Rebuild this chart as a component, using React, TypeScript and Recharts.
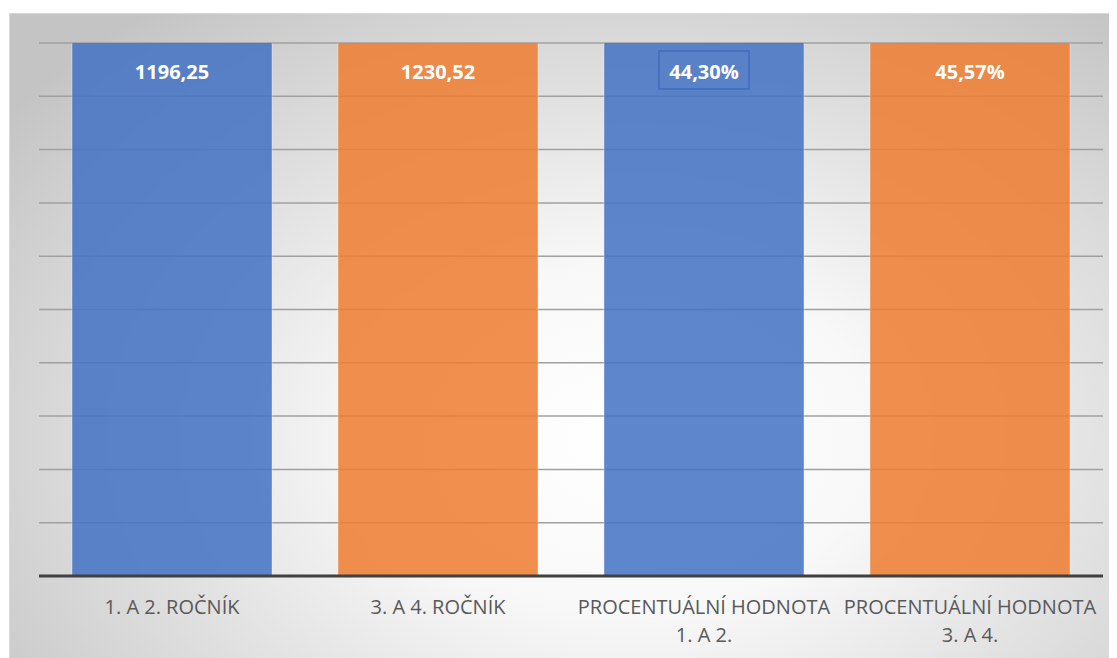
import { BarChart, Bar, XAxis, YAxis, CartesianGrid, Cell, LabelList, Text } from "recharts";

const categories = [
  "1. A 2. ROČNÍK",
  "3. A 4. ROČNÍK",
  "PROCENTUÁLNÍ HODNOTA\n1. A 2.",
  "PROCENTUÁLNÍ HODNOTA\n3. A 4.",
];
const values = [1196.25, 1230.52, 0.443, 0.4557];
const isPercent = [false, false, true, true];
const barColors = ["#4472C4", "#ED7D31", "#4472C4", "#ED7D31"];
const yTicks = [0, 0.04, 0.08, 0.12, 0.16, 0.2, 0.24, 0.28, 0.32, 0.36, 0.4];

const data = categories.map((name, i) => ({ name, value: values[i], pct: isPercent[i] }));

const fmt = (v: number, pct: boolean) =>
  pct ? (v * 100).toFixed(2).replace(".", ",") + "%" : v.toFixed(2).replace(".", ",");

const FONT = "'Open Sans', 'Noto Sans', sans-serif";

function Tick(props: any) {
  const { x, y, payload } = props;
  const lines = String(payload.value).split("\n");
  return (
    <g>
      {lines.map((l, i) => (
        <Text
          key={i}
          x={x}
          y={y + 16 + i * 28}
          textAnchor="middle"
          verticalAnchor="start"
          fill="#595959"
          fontSize={20}
          fontFamily={FONT}
        >
          {l}
        </Text>
      ))}
    </g>
  );
}

function ValueLabel(props: any) {
  const { x, y, width, index } = props;
  const cx = x + width / 2;
  const top = y < 30 ? 30 : y;
  const d = data[index];
  return (
    <g>
      {index === 2 && (
        <rect x={cx - 45} y={top + 7} width={90} height={38} fill="none" stroke="#3f6cc0" strokeWidth={1.5} />
      )}
      <text
        x={cx}
        y={top + 35}
        textAnchor="middle"
        fill="#ffffff"
        fontSize={20}
        fontWeight={700}
        fontFamily={FONT}
      >
        {fmt(d.value, d.pct)}
      </text>
    </g>
  );
}

export default function App() {
  return (
    <div
      style={{
        marginTop: 5,
        marginLeft: 1,
        width: 1108,
        height: 645,
        borderTop: "1px solid #d9d9d9",
        borderLeft: "1px solid #d9d9d9",
        boxSizing: "border-box",
        background:
          "radial-gradient(ellipse 70% 85% at 56% 66%, #ffffff 0%, #f8f8f8 32%, #dadada 72%, #c4c4c4 100%)",
      }}
    >
      <BarChart
        width={1107}
        height={644}
        data={data}
        margin={{ top: 29, right: 14, bottom: 12, left: 29 }}
        barSize={200}
      >
        <CartesianGrid vertical={false} stroke="#a0a0a0" strokeWidth={1.5} />
        <YAxis hide domain={[0, 0.4]} ticks={yTicks} allowDataOverflow />
        <XAxis
          dataKey="name"
          height={70}
          tickLine={false}
          axisLine={{ stroke: "#404040", strokeWidth: 3 }}
          tick={<Tick />}
          interval={0}
        />
        <Bar dataKey="value" isAnimationActive={false} fillOpacity={0.86} stroke="#ffffff" strokeOpacity={0.35} strokeWidth={1}>
          {data.map((_, i) => (
            <Cell key={i} fill={barColors[i]} />
          ))}
          <LabelList dataKey="value" content={<ValueLabel />} />
        </Bar>
      </BarChart>
    </div>
  );
}
